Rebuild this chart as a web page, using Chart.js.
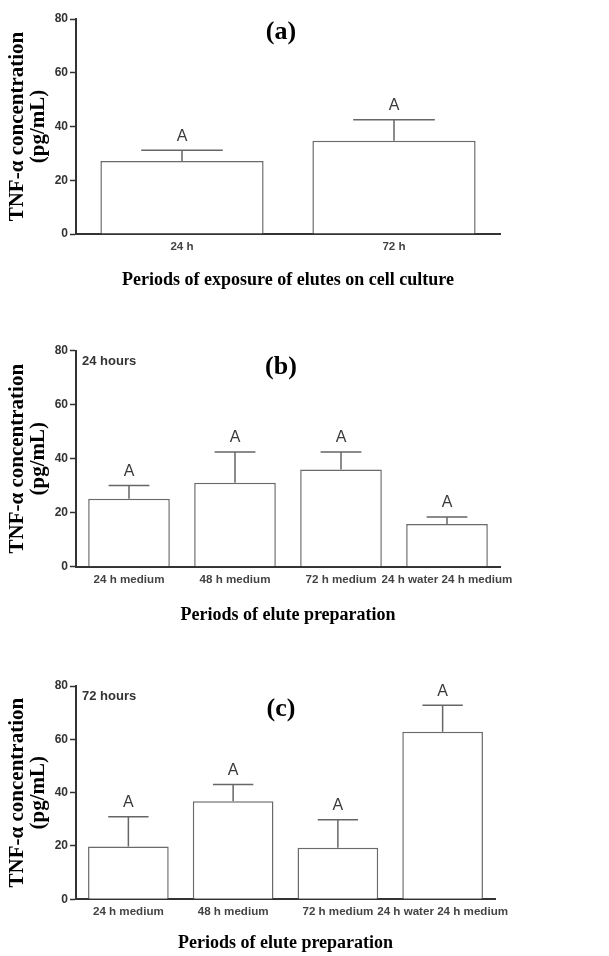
<!DOCTYPE html>
<html>
<head>
<meta charset="utf-8">
<script src="https://cdn.jsdelivr.net/npm/chart.js@4/dist/chart.umd.min.js"></script>
<style>
  html, body { margin: 0; padding: 0; background: #fff; }
  body { position: relative; width: 609px; height: 956px; overflow: hidden; }
  canvas { position: absolute; left: 0; }
</style>
</head>
<body>
<canvas id="ca" width="609" height="300" style="top:0px"></canvas>
<canvas id="cb" width="609" height="330" style="top:300px"></canvas>
<canvas id="cc" width="609" height="326" style="top:630px"></canvas>
<script>
// ---------- data ----------
const catsA = ['24 h', '72 h'];
const meanA = [27.2, 34.7];
const sdA = [4.0, 7.8];
const lettersA = ['A', 'A'];

const catsB = ['24 h medium', '48 h medium', '72 h medium', '24 h water 24 h medium'];
const meanB = [25.2, 31.1, 36.0, 15.8];
const sdB = [4.9, 11.4, 6.5, 2.6];
const lettersB = ['A', 'A', 'A', 'A'];

const catsC = ['24 h medium', '48 h medium', '72 h medium', '24 h water 24 h medium'];
const meanC = [19.8, 36.8, 19.3, 62.8];
const sdC = [11.2, 6.3, 10.5, 10.0];
const lettersC = ['A', 'A', 'A', 'A'];

const yTicks = [0, 20, 40, 60, 80];
const yTitle = ['TNF-\u03B1 concentration', '(pg/mL)'];
const xTitleA = 'Periods of exposure of elutes on cell culture';
const xTitleB = 'Periods of elute preparation';
const xTitleC = 'Periods of elute preparation';

// ---------- overlay plugin: error bars, letters, panel tags ----------
const overlay = {
  id: 'overlay',
  afterDatasetsDraw(chart, args, opts) {
    const ctx = chart.ctx;
    const y = chart.scales.y;
    const meta = chart.getDatasetMeta(0);
    ctx.save();
    meta.data.forEach((bar, i) => {
      const m = opts.means[i], s = opts.sds[i];
      const cx = bar.x;
      const yBar = y.getPixelForValue(m);
      const yTop = y.getPixelForValue(m + s);
      const half = bar.width / 4;
      ctx.strokeStyle = '#666';
      ctx.lineWidth = 1.5;
      ctx.beginPath();
      ctx.moveTo(cx, yBar); ctx.lineTo(cx, yTop);
      ctx.moveTo(cx - half, yTop); ctx.lineTo(cx + half, yTop);
      ctx.stroke();
      ctx.fillStyle = '#3a3a3a';
      ctx.font = '16px "Liberation Sans", Arial, sans-serif';
      ctx.textAlign = 'center';
      ctx.textBaseline = 'middle';
      ctx.fillText(opts.letters[i], cx, yTop - 14);
    });
    ctx.fillStyle = '#000';
    ctx.font = 'bold 26px "Liberation Serif", "Times New Roman", serif';
    ctx.textAlign = 'center';
    ctx.textBaseline = 'middle';
    ctx.fillText(opts.tag, opts.tagX, opts.tagY);
    if (opts.note) {
      ctx.fillStyle = '#333';
      ctx.font = 'bold 13px "Liberation Sans", Arial, sans-serif';
      ctx.textAlign = 'left';
      ctx.fillText(opts.note, opts.noteX, opts.noteY);
    }
    ctx.restore();
  }
};

function makeChart(id, cats, means, sds, letters, xTitle, L) {
  return new Chart(document.getElementById(id), {
    type: 'bar',
    data: {
      labels: cats,
      datasets: [{
        data: means,
        backgroundColor: '#ffffff',
        borderColor: '#6a6a6a',
        borderWidth: 1.5,
        barPercentage: 0.77,
        categoryPercentage: 1.0
      }]
    },
    options: {
      responsive: false,
      animation: false,
      devicePixelRatio: 1,
      layout: { padding: { top: L.top, right: L.right, bottom: 0, left: 0 } },
      plugins: {
        legend: { display: false },
        tooltip: { enabled: false },
        overlay: {
          means: means, sds: sds, letters: letters,
          tag: L.tag, tagX: L.tagX, tagY: L.tagY,
          note: L.note, noteX: 82, noteY: L.noteY
        }
      },
      scales: {
        x: {
          grid: { display: false },
          border: { display: true, color: '#333', width: 2 },
          ticks: {
            color: '#444',
            padding: -2,
            maxRotation: 0,
            autoSkip: false,
            font: { family: '"Liberation Sans", Arial, sans-serif', size: 11.6, weight: 'bold' }
          },
          title: {
            display: true,
            text: xTitle,
            color: '#000',
            padding: { top: 0, bottom: L.xtPad },
            font: { family: '"Liberation Serif", "Times New Roman", serif', size: 18, weight: 'bold', lineHeight: 1.2 }
          },
          afterFit: (s) => { s.height = L.xh; }
        },
        y: {
          min: 0, max: 80,
          afterBuildTicks: (s) => { s.ticks = yTicks.map(v => ({ value: v })); },
          grid: { drawOnChartArea: false, drawTicks: true, tickLength: 6, tickColor: '#333', tickWidth: 1.5 },
          border: { display: true, color: '#333', width: 2 },
          ticks: {
            color: '#333',
            padding: 2,
            font: { family: '"Liberation Sans", Arial, sans-serif', size: 12, weight: 'bold' }
          },
          title: {
            display: true,
            text: yTitle,
            color: '#000',
            padding: { top: 7, bottom: 0 },
            font: { family: '"Liberation Serif", "Times New Roman", serif', size: 21, weight: 'bold', lineHeight: 1.0 }
          },
          afterFit: (s) => { s.width = 76; }
        }
      }
    },
    plugins: [overlay]
  });
}

makeChart('ca', catsA, meanA, sdA, lettersA, xTitleA,
  { top: 19, right: 109, xh: 66, xtPad: 9, tag: '(a)', tagX: 281, tagY: 32 });
makeChart('cb', catsB, meanB, sdB, lettersB, xTitleB,
  { top: 50.7, right: 109, xh: 63.3, xtPad: 3.5, tag: '(b)', tagX: 281, tagY: 67, note: '24 hours', noteY: 61.7 });
makeChart('cc', catsC, meanC, sdC, lettersC, xTitleC,
  { top: 56, right: 114, xh: 56.7, xtPad: 2, tag: '(c)', tagX: 281, tagY: 79, note: '72 hours', noteY: 66 });
</script>
</body>
</html>
